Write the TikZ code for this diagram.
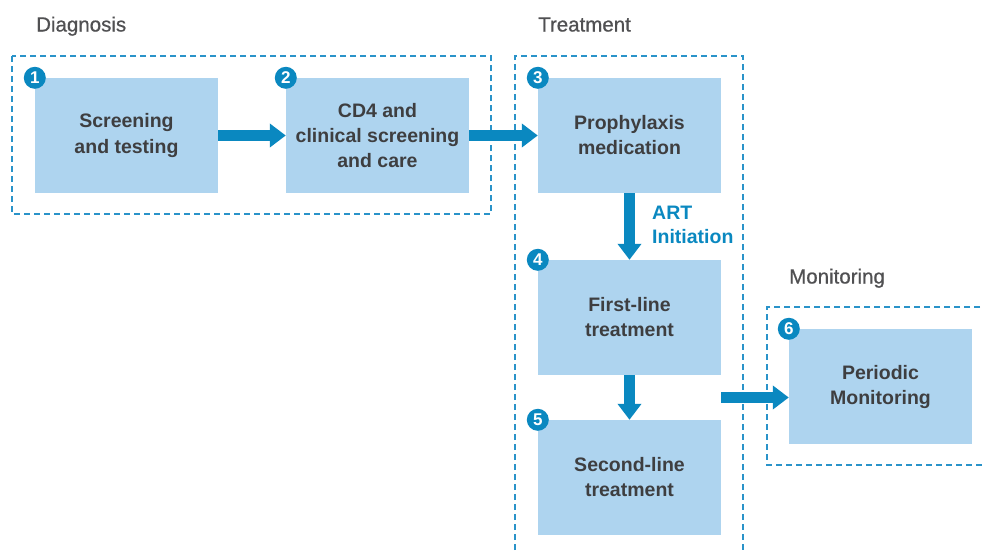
\documentclass[tikz,border=0pt]{standalone}
\usepackage{fontspec}
\setmainfont{Liberation Sans}
\newfontfamily\titlefont[FakeBold=0.7]{Liberation Sans}
\usetikzlibrary{arrows.meta}
\definecolor{boxfill}{HTML}{AED4EF}
\definecolor{arrowblue}{HTML}{0A88C0}
\definecolor{dashblue}{HTML}{2A93C9}
\definecolor{txtgray}{HTML}{3E3E40}
\definecolor{titlegray}{HTML}{505052}
\tikzset{
  stepbox/.style={fill=boxfill, minimum width=183pt, minimum height=115pt, inner sep=0pt,
    text=txtgray, align=center, font=\fontsize{19.5pt}{25pt}\selectfont\bfseries},
  badge/.style={circle, fill=arrowblue, minimum size=22pt, inner sep=0pt, text=white,
    font=\fontsize{17pt}{17pt}\selectfont\bfseries},
  fatarrow/.style={draw=arrowblue, line width=11.5pt, -{Triangle[length=16pt, width=23pt]}},
  frame/.style={draw=dashblue, line width=1.4pt, dash pattern=on 6pt off 4pt},
  title/.style={anchor=base west, inner sep=0pt, text=titlegray, font=\fontsize{20.5pt}{24pt}\selectfont\titlefont},
}
\begin{document}
\begin{tikzpicture}[x=1pt, y=-1pt]
\useasboundingbox (0,0) rectangle (983,554);
% frames
\draw[frame] (12,56) rectangle (491,214);
\draw[frame] (515,570) -- (515,56) -- (743,56) -- (743,570);
\draw[frame] (1000,307) -- (767,307) -- (767,465) -- (1000,465);
% titles
\node[title] (tdiag) at (36,31.5) {Diagnosis};
\node[title] (ttreat) at (538,31.5) {Treatment};
\node[title] (tmon) at (789,283.5) {Monitoring};
% boxes
\node[stepbox] (b1) at (126.5,135.5) {Screening\\and testing};
\node[stepbox] (b2) at (377.5,135.5) {CD4 and\\clinical screening\\and care};
\node[stepbox] (b3) at (629.5,135.5) {Prophylaxis\\medication};
\node[stepbox] (b4) at (629.5,317.5) {First-line\\treatment};
\node[stepbox] (b5) at (629.5,477.5) {Second-line\\treatment};
\node[stepbox] (b6) at (880.5,386.5) {Periodic\\Monitoring};
% badges
\node[badge] (n1) at (b1.north west) {1};
\node[badge] (n2) at (b2.north west) {2};
\node[badge] (n3) at (b3.north west) {3};
\node[badge] (n4) at (b4.north west) {4};
\node[badge] (n5) at (b5.north west) {5};
\node[badge] (n6) at (b6.north west) {6};
% arrows
\draw[fatarrow] (b1.east) -- (b2.west);
\draw[fatarrow] (b2.east) -- (b3.west);
\draw[fatarrow] (b3.south) -- (b4.north);
\draw[fatarrow] (b4.south) -- (b5.north);
\coordinate (c6) at (721,397.5);
\draw[fatarrow] (c6) -- (c6 -| b6.west);
% label
\node[anchor=north west, inner sep=0pt, align=left, text=arrowblue,
  font=\fontsize{19.5pt}{24.5pt}\selectfont\bfseries] (art) at (652,205.5) {ART\\Initiation};
\end{tikzpicture}
\end{document}
